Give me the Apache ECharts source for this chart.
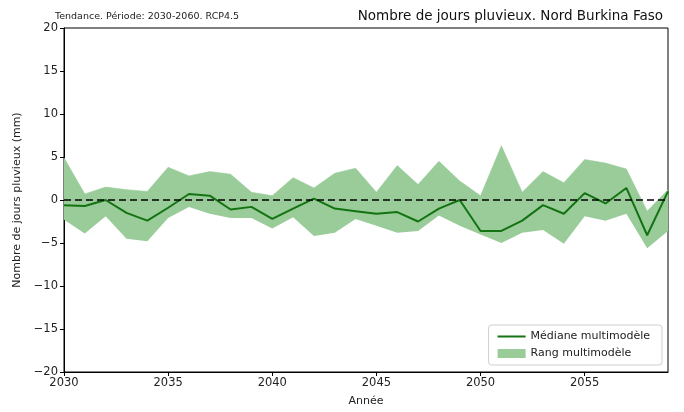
<!DOCTYPE html>
<html>
<head>
<meta charset="utf-8">
<script src="https://cdn.jsdelivr.net/npm/echarts@6/dist/echarts.min.js"></script>
<style>
  html, body { margin: 0; padding: 0; background: #fff; }
  #chart { width: 684px; height: 412px; }
</style>
</head>
<body>
<div id="chart"></div>
<script>
// années et valeurs
var years = ['2030', '2031', '2032', '2033', '2034', '2035', '2036', '2037', '2038', '2039',
             '2040', '2041', '2042', '2043', '2044', '2045', '2046', '2047', '2048', '2049',
             '2050', '2051', '2052', '2053', '2054', '2055', '2056', '2057', '2058', '2059'];
var median = [-0.6, -0.7, 0.0, -1.5, -2.4, -0.9, 0.7, 0.5, -1.1, -0.8,
              -2.2, -1.0, 0.15, -1.0, -1.3, -1.6, -1.4, -2.5, -1.0, 0.0,
              -3.6, -3.6, -2.4, -0.6, -1.6, 0.8, -0.4, 1.4, -4.1, 1.0];
var upper = [4.9, 0.7, 1.5, 1.2, 1.0, 3.8, 2.8, 3.3, 3.0, 0.9,
             0.5, 2.6, 1.4, 3.1, 3.7, 0.9, 4.0, 1.8, 4.5, 2.2,
             0.5, 6.3, 0.9, 3.3, 2.0, 4.7, 4.3, 3.6, -1.3, 1.2];
var lower = [-2.3, -3.9, -1.9, -4.5, -4.8, -2.1, -0.8, -1.6, -2.1, -2.1,
             -3.3, -2.0, -4.2, -3.8, -2.2, -3.0, -3.8, -3.6, -1.8, -3.0,
             -4.0, -5.0, -3.8, -3.5, -5.1, -1.9, -2.4, -1.6, -5.6, -3.6];

var font = 'DejaVu Sans';
var bandColor = '#99cc99';
var lineColor = '#137313';

// écart haut - bas, empilé sur la borne basse
var spread = [];
for (var i = 0; i < years.length; i++) spread.push(+(upper[i] - lower[i]).toFixed(2));

function everyFive(idx, val) { return (+val) % 5 === 0; }

var chart = echarts.init(document.getElementById('chart'), null, {renderer: 'canvas'});

var option = {
    backgroundColor: '#fff',
    animation: false,
    title: [
        {
            text: 'Tendance. Période: 2030-2060. RCP4.5',
            left: 50, top: 7,
            textStyle: {fontFamily: font, fontSize: 9.5, fontWeight: 'normal', color: '#222'}
        },
        {
            text: 'Nombre de jours pluvieux. Nord Burkina Faso',
            right: 16, top: 4,
            textStyle: {fontFamily: font, fontSize: 13.5, fontWeight: 'normal', color: '#111'}
        }
    ],
    grid: {
        left: 64, right: 16, top: 28, bottom: 40,
        show: true, borderColor: '#000', borderWidth: 1, backgroundColor: 'transparent'
    },
    legend: {
        orient: 'vertical',
        right: 22, bottom: 47,
        itemWidth: 28, itemHeight: 9,
        itemGap: 6,
        padding: [6, 12, 6, 8],
        borderColor: '#cfcfcf', borderWidth: 1, borderRadius: 3,
        backgroundColor: '#fff',
        textStyle: {fontFamily: font, fontSize: 11, color: '#222'},
        data: [
            {name: 'Médiane multimodèle', itemStyle: {opacity: 0}},
            {name: 'Rang multimodèle', icon: 'rect', itemStyle: {color: bandColor}}
        ]
    },
    xAxis: {
        type: 'category',
        data: years,
        boundaryGap: false,
        name: 'Année', nameLocation: 'middle', nameGap: 24,
        nameTextStyle: {fontFamily: font, fontSize: 11, color: '#222'},
        axisLine: {show: true, onZero: false, lineStyle: {color: '#000', width: 1}},
        axisTick: {show: true, length: 4, lineStyle: {color: '#000'}, interval: everyFive},
        axisLabel: {
            fontFamily: font, fontSize: 11.5, color: '#222', margin: 5,
            interval: everyFive
        },
        splitLine: {show: false}
    },
    yAxis: {
        type: 'value',
        min: -20, max: 20, interval: 5,
        name: 'Nombre de jours pluvieux (mm)', nameLocation: 'middle', nameGap: 38,
        nameTextStyle: {fontFamily: font, fontSize: 11, color: '#222'},
        axisLine: {show: true, lineStyle: {color: '#000', width: 1}},
        axisTick: {show: true, length: 4, lineStyle: {color: '#000'}},
        axisLabel: {
            fontFamily: font, fontSize: 11.5, color: '#222', margin: 6,
            formatter: function (v) { return v < 0 ? '\u2212' + Math.abs(v) : String(v); }
        },
        splitLine: {show: false}
    },
    series: [
        {
            name: 'base',
            type: 'line',
            data: lower,
            stack: 'band',
            stackStrategy: 'all',
            symbol: 'none',
            lineStyle: {opacity: 0},
            silent: true,
            z: 1
        },
        {
            name: 'Rang multimodèle',
            type: 'line',
            data: spread,
            stack: 'band',
            stackStrategy: 'all',
            symbol: 'none',
            itemStyle: {color: bandColor},
            lineStyle: {width: 0.6, color: bandColor},
            areaStyle: {color: bandColor, opacity: 1},
            silent: true,
            z: 1
        },
        {
            name: 'Médiane multimodèle',
            type: 'line',
            data: median,
            symbol: 'none',
            itemStyle: {color: lineColor},
            lineStyle: {width: 2, color: lineColor},
            z: 3,
            markLine: {
                silent: true,
                symbol: 'none',
                label: {show: false},
                lineStyle: {color: '#000', width: 1.5, type: [7, 4]},
                data: [{yAxis: 0}]
            }
        }
    ]
};

chart.setOption(option);
</script>
</body>
</html>
